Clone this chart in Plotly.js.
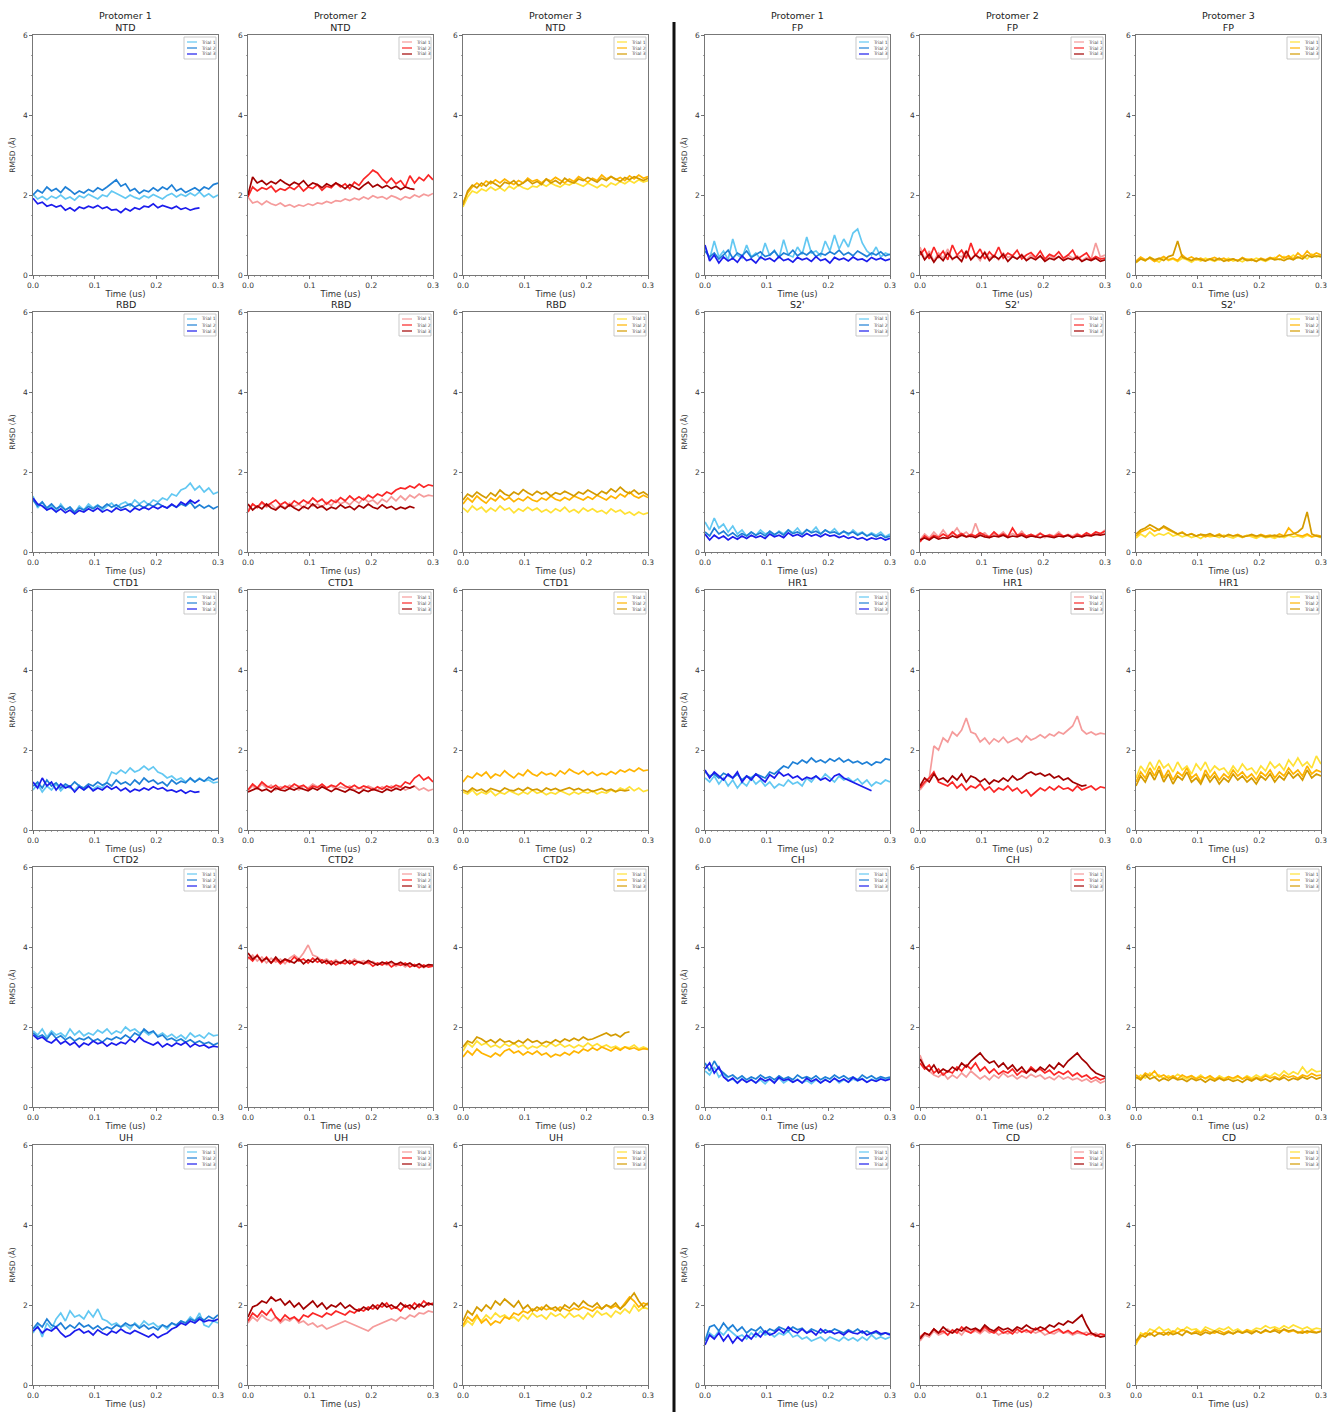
<!DOCTYPE html>
<html>
<head>
<meta charset="utf-8">
<script src="https://cdn.plot.ly/plotly-3.0.1.min.js"></script>
<style>html,body{margin:0;padding:0;background:#fff;}#chart{width:1338px;height:1412px;}</style>
</head>
<body>
<div id="chart"></div>
<script>
// ---------------- DATA (RMSD in Å, sampled every 0.0075 us) ----------------
const dt = 0.0075;
const trialNames = ['Trial 1', 'Trial 2', 'Trial 3'];
const protomerNames = ['Protomer 1', 'Protomer 2', 'Protomer 3'];
const leftDomains = ['NTD', 'RBD', 'CTD1', 'CTD2', 'UH'];
const rightDomains = ['FP', "S2'", 'HR1', 'CH', 'CD'];
const xTickLabels = ['0.0', '0.1', '0.2', '0.3'];
const yTickLabels = ['0', '2', '4', '6'];

// NTD
const ntd_p1_t1 = [2.02,1.9,1.96,1.88,1.97,1.92,2.0,1.9,1.95,1.87,1.98,1.93,2.02,1.95,1.9,2.0,1.96,2.1,2.05,1.98,1.92,2.0,1.94,1.9,1.98,1.93,2.01,1.95,1.9,1.99,2.04,1.95,2.02,1.97,2.05,1.98,2.08,1.96,2.03,1.94,2.0];
const ntd_p1_t2 = [2.0,2.12,2.05,2.2,2.1,2.16,2.06,2.2,2.12,2.02,2.1,2.05,2.14,2.08,2.18,2.12,2.2,2.3,2.38,2.22,2.28,2.1,2.16,2.04,2.12,2.08,2.18,2.1,2.2,2.14,2.25,2.1,2.16,2.06,2.12,2.18,2.1,2.2,2.15,2.26,2.3];
const ntd_p1_t3 = [1.92,1.78,1.82,1.72,1.76,1.7,1.74,1.62,1.68,1.6,1.7,1.66,1.72,1.68,1.74,1.66,1.7,1.62,1.64,1.56,1.66,1.6,1.68,1.64,1.72,1.7,1.78,1.68,1.74,1.7,1.66,1.72,1.64,1.68,1.62,1.66,1.68];
const ntd_p2_t1 = [1.95,1.8,1.84,1.76,1.85,1.78,1.74,1.8,1.72,1.76,1.7,1.75,1.72,1.78,1.74,1.8,1.78,1.84,1.8,1.86,1.84,1.9,1.86,1.92,1.88,1.95,1.9,1.98,1.93,1.96,1.9,1.98,1.94,1.88,1.96,1.92,2.0,1.95,2.02,1.98,2.04];
const ntd_p2_t2 = [1.95,2.2,2.1,2.18,2.14,2.22,2.08,2.16,2.12,2.2,2.14,2.24,2.1,2.2,2.16,2.26,2.12,2.22,2.18,2.3,2.2,2.28,2.16,2.32,2.24,2.4,2.5,2.62,2.55,2.4,2.3,2.42,2.28,2.36,2.2,2.48,2.3,2.44,2.36,2.5,2.38];
const ntd_p2_t3 = [2.0,2.45,2.3,2.36,2.26,2.34,2.28,2.38,2.3,2.24,2.32,2.26,2.36,2.22,2.3,2.26,2.18,2.28,2.22,2.3,2.24,2.16,2.26,2.2,2.14,2.24,2.32,2.2,2.26,2.18,2.24,2.16,2.22,2.14,2.2,2.16,2.14];
const ntd_p3_t1 = [1.7,1.95,2.1,2.05,2.15,2.1,2.2,2.12,2.18,2.1,2.22,2.15,2.25,2.18,2.14,2.22,2.2,2.28,2.22,2.3,2.24,2.2,2.28,2.25,2.32,2.26,2.22,2.3,2.24,2.18,2.26,2.2,2.3,2.25,2.34,2.28,2.36,2.3,2.38,2.32,2.36];
const ntd_p3_t2 = [1.8,2.05,2.2,2.3,2.22,2.35,2.28,2.38,2.3,2.4,2.32,2.26,2.36,2.3,2.42,2.34,2.38,2.3,2.4,2.35,2.44,2.36,2.3,2.4,2.34,2.46,2.38,2.32,2.42,2.36,2.5,2.4,2.46,2.38,2.44,2.36,2.48,2.4,2.5,2.42,2.46];
const ntd_p3_t3 = [1.75,2.1,2.25,2.18,2.3,2.22,2.34,2.26,2.2,2.32,2.28,2.36,2.24,2.3,2.38,2.28,2.34,2.26,2.4,2.3,2.36,2.28,2.42,2.34,2.3,2.4,2.36,2.44,2.38,2.32,2.42,2.36,2.46,2.4,2.34,2.44,2.38,2.46,2.4,2.36,2.42];
// FP
const fp_p1_t1 = [0.7,0.4,0.85,0.45,0.6,0.38,0.9,0.5,0.42,0.75,0.45,0.55,0.4,0.8,0.48,0.62,0.42,0.88,0.5,0.45,0.7,0.52,0.95,0.55,0.6,0.48,0.85,0.6,1.0,0.65,0.9,0.7,1.05,1.15,0.8,0.6,0.5,0.7,0.45,0.55,0.5];
const fp_p1_t2 = [0.6,0.45,0.55,0.4,0.5,0.62,0.42,0.55,0.48,0.6,0.44,0.52,0.58,0.46,0.5,0.6,0.45,0.55,0.5,0.62,0.48,0.56,0.5,0.6,0.46,0.54,0.5,0.58,0.52,0.62,0.5,0.56,0.48,0.6,0.52,0.46,0.55,0.5,0.58,0.48,0.52];
const fp_p1_t3 = [0.75,0.35,0.5,0.3,0.45,0.35,0.42,0.32,0.48,0.36,0.4,0.3,0.45,0.38,0.42,0.34,0.46,0.36,0.4,0.32,0.44,0.38,0.42,0.34,0.46,0.36,0.4,0.3,0.44,0.38,0.42,0.35,0.45,0.38,0.4,0.34,0.44,0.38,0.42,0.36,0.4];
const fp_p2_t1 = [0.7,0.4,0.6,0.35,0.55,0.42,0.65,0.38,0.5,0.45,0.6,0.4,0.52,0.36,0.58,0.42,0.5,0.38,0.55,0.44,0.48,0.4,0.52,0.38,0.5,0.42,0.46,0.36,0.5,0.4,0.46,0.38,0.5,0.42,0.48,0.36,0.44,0.4,0.8,0.45,0.5];
const fp_p2_t2 = [0.5,0.65,0.4,0.7,0.45,0.6,0.38,0.75,0.5,0.62,0.42,0.8,0.48,0.65,0.4,0.58,0.45,0.7,0.42,0.55,0.48,0.62,0.4,0.5,0.56,0.44,0.6,0.4,0.52,0.46,0.58,0.42,0.5,0.62,0.4,0.48,0.55,0.38,0.46,0.4,0.42];
const fp_p2_t3 = [0.6,0.38,0.52,0.32,0.48,0.36,0.55,0.4,0.46,0.34,0.6,0.38,0.5,0.42,0.56,0.36,0.48,0.4,0.52,0.34,0.46,0.4,0.5,0.36,0.44,0.38,0.48,0.34,0.42,0.38,0.46,0.36,0.42,0.38,0.45,0.34,0.4,0.36,0.42,0.34,0.38];
const fp_p3_t1 = [0.3,0.42,0.35,0.45,0.38,0.32,0.44,0.36,0.4,0.34,0.42,0.38,0.32,0.4,0.35,0.42,0.38,0.34,0.4,0.36,0.42,0.35,0.38,0.33,0.4,0.36,0.42,0.38,0.34,0.4,0.44,0.38,0.46,0.4,0.5,0.42,0.48,0.4,0.52,0.45,0.5];
const fp_p3_t2 = [0.35,0.45,0.38,0.42,0.34,0.4,0.46,0.38,0.42,0.36,0.5,0.4,0.45,0.38,0.42,0.36,0.4,0.44,0.38,0.42,0.35,0.4,0.36,0.44,0.38,0.4,0.34,0.42,0.38,0.44,0.4,0.5,0.42,0.48,0.4,0.55,0.45,0.6,0.48,0.55,0.5];
const fp_p3_t3 = [0.32,0.4,0.36,0.44,0.38,0.42,0.36,0.46,0.5,0.85,0.45,0.4,0.36,0.42,0.38,0.35,0.4,0.36,0.42,0.34,0.38,0.4,0.35,0.42,0.36,0.38,0.34,0.4,0.36,0.42,0.38,0.4,0.36,0.42,0.38,0.45,0.4,0.5,0.44,0.48,0.45];
// RBD
const rbd_p1_t1 = [1.4,1.1,1.25,1.05,1.15,1.0,1.2,1.05,1.12,0.98,1.15,1.05,1.2,1.1,1.18,1.05,1.15,1.22,1.1,1.2,1.25,1.15,1.3,1.2,1.28,1.18,1.3,1.25,1.35,1.3,1.45,1.4,1.55,1.6,1.72,1.55,1.65,1.5,1.6,1.45,1.5];
const rbd_p1_t2 = [1.3,1.15,1.25,1.1,1.2,1.08,1.15,1.05,1.12,1.0,1.1,1.05,1.14,1.08,1.16,1.1,1.2,1.12,1.18,1.1,1.15,1.2,1.12,1.18,1.1,1.2,1.14,1.22,1.15,1.1,1.18,1.12,1.2,1.15,1.25,1.1,1.18,1.1,1.16,1.08,1.14];
const rbd_p1_t3 = [1.35,1.2,1.15,1.05,1.1,1.0,1.08,0.98,1.05,0.95,1.04,1.0,1.08,1.02,1.1,1.0,1.06,1.0,1.1,1.04,1.08,1.0,1.1,1.05,1.12,1.06,1.14,1.08,1.15,1.1,1.2,1.12,1.25,1.18,1.3,1.22,1.3];
const rbd_p2_t1 = [1.05,1.2,1.1,1.22,1.12,1.2,1.08,1.18,1.1,1.22,1.14,1.2,1.1,1.25,1.15,1.2,1.12,1.24,1.16,1.3,1.2,1.26,1.18,1.3,1.22,1.35,1.25,1.3,1.2,1.32,1.25,1.38,1.28,1.4,1.3,1.42,1.35,1.45,1.38,1.42,1.4];
const rbd_p2_t2 = [1.0,1.2,1.12,1.25,1.15,1.22,1.3,1.18,1.25,1.15,1.28,1.2,1.3,1.22,1.35,1.25,1.32,1.2,1.3,1.24,1.36,1.28,1.4,1.3,1.38,1.3,1.42,1.35,1.45,1.4,1.5,1.45,1.55,1.6,1.58,1.65,1.6,1.7,1.62,1.68,1.65];
const rbd_p2_t3 = [1.2,1.05,1.15,1.08,1.2,1.1,1.05,1.15,1.08,1.18,1.1,1.04,1.14,1.08,1.2,1.1,1.15,1.05,1.12,1.08,1.18,1.1,1.14,1.06,1.16,1.1,1.2,1.12,1.08,1.18,1.1,1.14,1.06,1.12,1.08,1.14,1.1];
const rbd_p3_t1 = [1.1,1.0,1.15,1.05,1.12,1.0,1.1,1.02,1.15,1.05,1.1,0.98,1.08,1.02,1.12,1.04,1.1,1.0,1.06,0.98,1.08,1.02,1.12,1.0,1.06,0.98,1.1,1.02,1.08,1.0,1.04,0.96,1.08,1.0,1.05,0.95,1.0,0.92,1.0,0.94,0.98];
const rbd_p3_t2 = [1.2,1.35,1.25,1.4,1.3,1.22,1.35,1.28,1.4,1.3,1.36,1.26,1.34,1.28,1.38,1.3,1.26,1.35,1.3,1.4,1.32,1.28,1.36,1.3,1.4,1.34,1.3,1.38,1.32,1.42,1.35,1.3,1.4,1.34,1.45,1.38,1.5,1.4,1.35,1.42,1.36];
const rbd_p3_t3 = [1.3,1.45,1.38,1.5,1.42,1.35,1.48,1.4,1.55,1.45,1.4,1.5,1.44,1.56,1.48,1.42,1.52,1.45,1.5,1.4,1.48,1.44,1.52,1.46,1.4,1.5,1.45,1.55,1.48,1.42,1.52,1.46,1.58,1.5,1.62,1.52,1.46,1.55,1.45,1.5,1.42];
// S2'
const s2_p1_t1 = [0.75,0.55,0.85,0.6,0.7,0.5,0.65,0.45,0.55,0.4,0.5,0.42,0.55,0.45,0.5,0.4,0.52,0.45,0.55,0.48,0.6,0.45,0.55,0.5,0.62,0.45,0.55,0.48,0.58,0.45,0.52,0.42,0.55,0.45,0.5,0.4,0.48,0.42,0.5,0.38,0.45];
const s2_p1_t2 = [0.5,0.4,0.6,0.45,0.52,0.4,0.48,0.38,0.46,0.4,0.5,0.42,0.48,0.4,0.52,0.44,0.5,0.42,0.55,0.46,0.5,0.44,0.56,0.48,0.52,0.45,0.55,0.48,0.5,0.44,0.52,0.46,0.5,0.42,0.48,0.4,0.45,0.38,0.44,0.36,0.4];
const s2_p1_t3 = [0.45,0.3,0.42,0.34,0.4,0.3,0.38,0.32,0.4,0.34,0.42,0.36,0.4,0.34,0.45,0.38,0.42,0.36,0.48,0.4,0.44,0.38,0.46,0.4,0.44,0.38,0.45,0.4,0.42,0.36,0.4,0.34,0.38,0.32,0.36,0.3,0.35,0.32,0.36,0.3,0.34];
const s2_p2_t1 = [0.3,0.45,0.35,0.5,0.38,0.55,0.4,0.45,0.6,0.42,0.5,0.38,0.72,0.42,0.48,0.36,0.45,0.4,0.5,0.38,0.46,0.4,0.52,0.38,0.44,0.4,0.48,0.36,0.44,0.4,0.5,0.38,0.44,0.4,0.46,0.38,0.42,0.4,0.5,0.45,0.55];
const s2_p2_t2 = [0.25,0.4,0.32,0.42,0.36,0.45,0.38,0.5,0.4,0.46,0.38,0.44,0.4,0.48,0.42,0.38,0.5,0.4,0.45,0.38,0.6,0.42,0.46,0.4,0.44,0.38,0.46,0.4,0.42,0.38,0.45,0.4,0.42,0.36,0.44,0.4,0.48,0.42,0.5,0.46,0.52];
const s2_p2_t3 = [0.3,0.35,0.3,0.38,0.32,0.36,0.34,0.4,0.36,0.42,0.38,0.4,0.36,0.42,0.38,0.36,0.4,0.38,0.42,0.36,0.4,0.38,0.42,0.36,0.4,0.38,0.36,0.4,0.38,0.36,0.4,0.38,0.42,0.36,0.4,0.38,0.42,0.4,0.44,0.42,0.45];
const s2_p3_t1 = [0.35,0.45,0.38,0.5,0.4,0.46,0.42,0.48,0.4,0.44,0.38,0.42,0.36,0.4,0.34,0.42,0.38,0.4,0.36,0.42,0.38,0.35,0.4,0.36,0.42,0.38,0.34,0.4,0.36,0.38,0.34,0.4,0.36,0.42,0.38,0.4,0.36,0.42,0.38,0.4,0.36];
const s2_p3_t2 = [0.4,0.5,0.55,0.6,0.52,0.58,0.62,0.55,0.5,0.45,0.5,0.42,0.46,0.4,0.44,0.38,0.42,0.4,0.45,0.38,0.42,0.4,0.44,0.38,0.4,0.42,0.38,0.44,0.4,0.42,0.38,0.45,0.4,0.6,0.48,0.42,0.4,0.45,0.38,0.42,0.4];
const s2_p3_t3 = [0.45,0.55,0.6,0.68,0.62,0.55,0.65,0.58,0.5,0.45,0.48,0.42,0.45,0.4,0.44,0.42,0.46,0.4,0.42,0.38,0.44,0.4,0.42,0.38,0.4,0.44,0.4,0.42,0.38,0.4,0.42,0.38,0.4,0.42,0.45,0.5,0.6,1.0,0.45,0.4,0.38];
// CTD1
const ctd1_p1_t1 = [1.0,1.15,0.95,1.1,1.0,1.15,0.98,1.1,1.05,1.0,1.12,1.0,1.08,1.02,1.1,1.05,1.2,1.45,1.4,1.5,1.42,1.55,1.45,1.5,1.6,1.5,1.58,1.45,1.4,1.3,1.35,1.25,1.3,1.2,1.28,1.2,1.3,1.22,1.25,1.18,1.2];
const ctd1_p1_t2 = [1.1,1.2,1.05,1.25,1.1,1.18,1.05,1.15,1.08,1.2,1.1,1.05,1.15,1.1,1.2,1.12,1.18,1.1,1.25,1.15,1.2,1.12,1.25,1.15,1.3,1.2,1.25,1.15,1.2,1.1,1.25,1.15,1.22,1.18,1.3,1.2,1.28,1.22,1.32,1.25,1.3];
const ctd1_p1_t3 = [1.2,1.05,1.3,1.1,1.2,1.0,1.15,1.05,1.1,0.95,1.08,1.0,1.1,0.98,1.05,1.0,1.1,1.02,1.08,0.98,1.05,0.95,1.02,0.98,1.05,1.0,1.08,1.02,1.06,0.98,1.0,0.95,1.0,0.92,0.98,0.94,0.96];
const ctd1_p2_t1 = [1.0,1.1,1.02,1.15,1.05,1.12,1.0,1.08,1.04,1.12,1.06,1.0,1.1,1.05,1.15,1.08,1.12,1.05,1.1,1.02,1.08,1.04,1.1,1.0,1.06,1.02,1.1,1.05,1.0,1.08,1.02,1.1,1.04,1.08,1.0,1.05,1.1,1.0,1.05,0.98,1.02];
const ctd1_p2_t2 = [1.0,1.15,1.05,1.2,1.1,1.05,1.12,1.02,1.1,1.05,1.15,1.08,1.12,1.02,1.1,1.06,1.15,1.05,1.12,1.08,1.18,1.1,1.05,1.12,1.04,1.1,1.06,1.0,1.08,1.02,1.1,1.05,1.12,1.08,1.2,1.15,1.3,1.38,1.25,1.32,1.2];
const ctd1_p2_t3 = [0.95,1.0,1.05,0.98,1.02,0.95,1.05,1.0,0.98,1.04,1.0,1.06,1.02,0.98,1.05,1.0,1.08,1.02,0.96,1.04,1.0,0.95,1.02,0.98,0.92,1.0,0.96,1.02,0.98,0.94,1.02,0.98,1.04,1.0,1.08,1.05,1.1];
const ctd1_p3_t1 = [0.95,0.9,1.0,0.88,0.95,0.9,0.98,0.86,0.94,0.9,0.98,0.92,0.88,0.95,0.9,1.0,0.92,0.96,0.88,0.94,0.9,0.98,0.92,0.88,0.95,0.9,0.96,0.92,0.98,0.9,0.95,0.92,1.0,0.95,1.05,1.0,1.08,0.98,1.05,0.96,1.0];
const ctd1_p3_t2 = [1.2,1.35,1.3,1.42,1.35,1.45,1.3,1.4,1.35,1.48,1.38,1.3,1.42,1.36,1.5,1.4,1.35,1.45,1.38,1.42,1.35,1.48,1.4,1.52,1.45,1.4,1.48,1.38,1.45,1.36,1.42,1.38,1.46,1.4,1.5,1.45,1.52,1.46,1.55,1.48,1.5];
const ctd1_p3_t3 = [1.0,0.95,1.05,0.98,1.02,0.95,1.04,1.0,0.96,1.05,1.0,0.98,1.04,0.98,1.06,1.0,1.02,0.96,1.05,1.0,1.04,0.98,1.02,1.06,1.0,1.04,0.98,1.02,0.96,1.0,1.04,0.98,1.02,0.96,1.0,0.98,1.0];
// HR1
const hr1_p1_t1 = [1.3,1.2,1.35,1.15,1.3,1.1,1.25,1.05,1.2,1.1,1.3,1.15,1.25,1.1,1.2,1.05,1.15,1.1,1.25,1.15,1.2,1.1,1.3,1.2,1.35,1.25,1.4,1.3,1.2,1.35,1.25,1.3,1.2,1.28,1.15,1.25,1.1,1.2,1.15,1.25,1.2];
const hr1_p1_t2 = [1.45,1.35,1.4,1.3,1.42,1.35,1.3,1.4,1.25,1.35,1.3,1.4,1.35,1.3,1.45,1.4,1.5,1.6,1.55,1.7,1.65,1.75,1.68,1.8,1.7,1.75,1.68,1.78,1.72,1.8,1.7,1.76,1.68,1.72,1.65,1.7,1.62,1.7,1.68,1.78,1.75];
const hr1_p1_t3 = [1.5,1.3,1.45,1.35,1.25,1.4,1.3,1.45,1.2,1.35,1.25,1.4,1.3,1.2,1.38,1.3,1.45,1.35,1.4,1.3,1.35,1.25,1.32,1.28,1.35,1.25,1.3,1.22,1.35,1.4,1.3,1.25,1.2,1.15,1.1,1.05,0.98];
const hr1_p2_t1 = [1.0,1.15,1.3,2.1,2.0,2.3,2.2,2.45,2.35,2.5,2.8,2.45,2.4,2.2,2.3,2.15,2.28,2.2,2.32,2.18,2.25,2.3,2.2,2.35,2.25,2.3,2.38,2.3,2.4,2.35,2.45,2.4,2.5,2.6,2.85,2.5,2.4,2.45,2.38,2.42,2.4];
const hr1_p2_t2 = [1.05,1.2,1.3,1.45,1.2,1.15,1.1,1.2,1.05,1.15,1.0,1.1,1.05,1.15,1.0,1.08,0.95,1.05,1.0,1.1,0.98,1.05,0.92,1.0,0.85,0.95,1.05,0.98,1.08,1.0,1.1,1.02,1.05,0.98,1.1,1.0,1.05,1.1,1.0,1.08,1.05];
const hr1_p2_t3 = [1.1,1.3,1.2,1.4,1.25,1.3,1.2,1.35,1.25,1.4,1.2,1.35,1.3,1.2,1.28,1.15,1.25,1.2,1.3,1.22,1.35,1.25,1.3,1.4,1.45,1.38,1.42,1.35,1.4,1.3,1.35,1.25,1.3,1.2,1.15,1.1,1.12];
const hr1_p3_t1 = [1.3,1.6,1.45,1.7,1.5,1.75,1.55,1.65,1.45,1.7,1.5,1.6,1.4,1.65,1.5,1.7,1.45,1.6,1.5,1.55,1.4,1.6,1.45,1.65,1.5,1.55,1.4,1.6,1.48,1.7,1.55,1.65,1.5,1.75,1.6,1.8,1.6,1.7,1.55,1.85,1.65];
const hr1_p3_t2 = [1.2,1.45,1.3,1.55,1.35,1.6,1.3,1.5,1.25,1.45,1.35,1.55,1.3,1.4,1.2,1.5,1.3,1.45,1.25,1.4,1.3,1.5,1.35,1.45,1.3,1.4,1.25,1.45,1.35,1.5,1.3,1.45,1.35,1.55,1.4,1.5,1.35,1.6,1.4,1.5,1.45];
const hr1_p3_t3 = [1.1,1.35,1.2,1.45,1.25,1.5,1.2,1.4,1.15,1.35,1.25,1.45,1.2,1.3,1.15,1.4,1.2,1.35,1.15,1.3,1.2,1.4,1.25,1.35,1.2,1.3,1.15,1.35,1.25,1.4,1.2,1.35,1.25,1.45,1.3,1.4,1.25,1.5,1.3,1.4,1.35];
// CTD2
const ctd2_p1_t1 = [1.9,1.8,1.95,1.75,1.9,1.8,1.85,1.75,1.95,1.8,1.9,1.78,1.85,1.8,1.92,1.85,1.95,1.82,1.9,1.85,2.0,1.9,1.95,1.85,1.9,1.8,1.88,1.78,1.85,1.75,1.82,1.72,1.8,1.7,1.85,1.75,1.8,1.72,1.85,1.78,1.8];
const ctd2_p1_t2 = [1.85,1.75,1.8,1.7,1.85,1.72,1.78,1.68,1.75,1.65,1.72,1.68,1.75,1.65,1.7,1.62,1.72,1.68,1.75,1.7,1.8,1.72,1.85,1.78,1.95,1.85,1.9,1.75,1.8,1.68,1.72,1.65,1.7,1.62,1.68,1.6,1.65,1.58,1.62,1.55,1.6];
const ctd2_p1_t3 = [1.8,1.7,1.75,1.65,1.6,1.7,1.58,1.65,1.55,1.62,1.5,1.6,1.55,1.65,1.58,1.62,1.52,1.6,1.55,1.62,1.58,1.7,1.62,1.75,1.65,1.6,1.55,1.62,1.5,1.58,1.52,1.6,1.55,1.62,1.5,1.58,1.52,1.55,1.48,1.52,1.5];
const ctd2_p2_t1 = [3.7,3.8,3.65,3.75,3.6,3.72,3.62,3.7,3.58,3.72,3.8,3.7,3.85,4.05,3.8,3.75,3.65,3.7,3.6,3.68,3.58,3.65,3.6,3.7,3.62,3.66,3.58,3.64,3.56,3.62,3.55,3.6,3.52,3.6,3.5,3.58,3.52,3.56,3.48,3.55,3.52];
const ctd2_p2_t2 = [3.75,3.65,3.8,3.62,3.75,3.6,3.7,3.58,3.68,3.62,3.75,3.65,3.7,3.6,3.72,3.62,3.68,3.58,3.65,3.55,3.62,3.58,3.66,3.55,3.64,3.58,3.62,3.52,3.6,3.55,3.62,3.5,3.58,3.54,3.6,3.5,3.56,3.48,3.55,3.5,3.52];
const ctd2_p2_t3 = [3.85,3.7,3.78,3.65,3.72,3.6,3.75,3.62,3.7,3.65,3.6,3.7,3.58,3.68,3.62,3.72,3.6,3.66,3.56,3.64,3.6,3.68,3.58,3.65,3.62,3.58,3.66,3.6,3.55,3.62,3.58,3.64,3.56,3.62,3.55,3.6,3.52,3.58,3.5,3.56,3.55];
const ctd2_p3_t1 = [1.4,1.6,1.5,1.65,1.55,1.6,1.5,1.55,1.48,1.58,1.52,1.6,1.5,1.55,1.45,1.52,1.48,1.55,1.5,1.6,1.52,1.58,1.5,1.55,1.48,1.55,1.5,1.6,1.52,1.58,1.5,1.55,1.48,1.52,1.45,1.5,1.48,1.55,1.45,1.5,1.45];
const ctd2_p3_t2 = [1.25,1.4,1.3,1.45,1.35,1.3,1.25,1.35,1.28,1.4,1.45,1.35,1.4,1.3,1.38,1.32,1.4,1.3,1.35,1.25,1.32,1.28,1.36,1.3,1.4,1.35,1.45,1.4,1.48,1.42,1.5,1.45,1.4,1.48,1.42,1.5,1.45,1.48,1.42,1.46,1.44];
const ctd2_p3_t3 = [1.5,1.65,1.6,1.75,1.7,1.62,1.68,1.6,1.7,1.62,1.65,1.58,1.66,1.6,1.7,1.62,1.66,1.58,1.64,1.6,1.68,1.62,1.7,1.65,1.72,1.66,1.75,1.68,1.7,1.75,1.8,1.85,1.78,1.82,1.75,1.85,1.88];
// CH
const ch_p1_t1 = [0.9,0.8,1.0,0.75,0.85,0.65,0.7,0.6,0.72,0.62,0.7,0.6,0.68,0.58,0.7,0.62,0.72,0.6,0.68,0.62,0.7,0.6,0.66,0.58,0.68,0.6,0.7,0.62,0.72,0.6,0.68,0.62,0.7,0.65,0.72,0.62,0.7,0.65,0.75,0.68,0.72];
const ch_p1_t2 = [1.1,0.9,1.15,0.95,0.85,0.75,0.8,0.7,0.78,0.68,0.75,0.7,0.8,0.72,0.76,0.68,0.78,0.7,0.75,0.68,0.8,0.72,0.76,0.7,0.78,0.68,0.75,0.7,0.8,0.72,0.78,0.7,0.75,0.68,0.8,0.72,0.78,0.7,0.76,0.72,0.75];
const ch_p1_t3 = [0.95,1.1,0.85,1.0,0.75,0.65,0.72,0.6,0.7,0.62,0.68,0.6,0.72,0.65,0.7,0.6,0.74,0.66,0.7,0.62,0.68,0.6,0.72,0.64,0.7,0.6,0.68,0.62,0.72,0.64,0.7,0.62,0.74,0.66,0.7,0.62,0.68,0.64,0.7,0.66,0.7];
const ch_p2_t1 = [1.3,1.0,0.9,0.8,0.75,0.85,0.7,0.8,0.72,0.85,0.75,0.9,0.8,0.7,0.78,0.68,0.8,0.72,0.85,0.75,0.8,0.7,0.78,0.72,0.82,0.75,0.8,0.7,0.75,0.68,0.78,0.7,0.75,0.68,0.72,0.65,0.7,0.62,0.68,0.6,0.65];
const ch_p2_t2 = [1.1,0.95,1.05,0.85,0.95,0.8,0.9,0.85,1.0,0.9,1.05,0.95,1.1,0.9,1.0,0.85,0.95,0.82,0.9,0.85,0.95,0.8,0.9,0.85,1.0,0.9,0.95,0.85,0.92,0.8,0.88,0.82,0.9,0.78,0.85,0.75,0.8,0.7,0.75,0.68,0.72];
const ch_p2_t3 = [1.2,1.0,0.9,1.05,0.85,0.95,0.88,1.0,0.92,1.1,1.0,1.15,1.25,1.35,1.2,1.1,1.15,1.0,1.1,0.95,1.05,0.9,1.0,0.85,0.95,0.88,1.0,0.92,1.05,0.95,1.1,1.0,1.15,1.25,1.35,1.2,1.1,0.95,0.85,0.8,0.75];
const ch_p3_t1 = [0.7,0.8,0.72,0.85,0.75,0.8,0.7,0.78,0.72,0.82,0.75,0.7,0.78,0.72,0.8,0.7,0.75,0.68,0.78,0.72,0.76,0.68,0.75,0.7,0.78,0.72,0.8,0.74,0.82,0.76,0.85,0.78,0.9,0.8,0.88,0.82,1.0,0.85,0.95,0.88,0.9];
const ch_p3_t2 = [0.8,0.72,0.85,0.78,0.9,0.75,0.8,0.72,0.78,0.7,0.8,0.74,0.78,0.7,0.76,0.72,0.78,0.7,0.74,0.68,0.76,0.72,0.78,0.7,0.75,0.68,0.74,0.7,0.78,0.72,0.76,0.7,0.8,0.74,0.78,0.72,0.8,0.76,0.84,0.78,0.8];
const ch_p3_t3 = [0.75,0.68,0.8,0.7,0.75,0.65,0.72,0.66,0.74,0.68,0.7,0.64,0.72,0.66,0.7,0.62,0.7,0.65,0.72,0.66,0.7,0.64,0.68,0.62,0.7,0.65,0.72,0.66,0.7,0.64,0.72,0.68,0.74,0.66,0.72,0.68,0.75,0.7,0.76,0.7,0.74];
// UH
const uh_p1_t1 = [1.3,1.5,1.2,1.55,1.4,1.65,1.8,1.6,1.85,1.7,1.75,1.65,1.85,1.7,1.9,1.65,1.6,1.5,1.55,1.45,1.5,1.4,1.55,1.45,1.6,1.5,1.55,1.45,1.5,1.4,1.55,1.48,1.6,1.55,1.7,1.6,1.8,1.5,1.45,1.6,1.55];
const uh_p1_t2 = [1.4,1.55,1.45,1.65,1.5,1.45,1.55,1.4,1.5,1.42,1.55,1.45,1.5,1.4,1.48,1.38,1.45,1.4,1.5,1.45,1.55,1.48,1.52,1.42,1.5,1.4,1.45,1.38,1.5,1.45,1.55,1.5,1.6,1.55,1.65,1.6,1.7,1.62,1.72,1.65,1.75];
const uh_p1_t3 = [1.35,1.45,1.3,1.4,1.35,1.45,1.3,1.2,1.25,1.35,1.4,1.3,1.35,1.25,1.38,1.3,1.25,1.35,1.3,1.4,1.32,1.28,1.36,1.3,1.25,1.2,1.28,1.18,1.25,1.3,1.4,1.45,1.55,1.5,1.6,1.55,1.65,1.58,1.62,1.6,1.65];
const uh_p2_t1 = [1.55,1.7,1.6,1.75,1.65,1.6,1.7,1.55,1.65,1.6,1.7,1.55,1.6,1.5,1.55,1.45,1.5,1.4,1.45,1.5,1.55,1.6,1.55,1.5,1.45,1.4,1.35,1.45,1.5,1.55,1.6,1.65,1.6,1.7,1.65,1.75,1.7,1.8,1.78,1.85,1.82];
const uh_p2_t2 = [1.6,1.8,1.7,1.85,1.75,1.9,1.7,1.6,1.75,1.65,1.7,1.6,1.75,1.7,1.8,1.75,1.7,1.8,1.75,1.85,1.8,1.75,1.85,1.8,1.9,1.85,1.95,1.9,2.0,1.95,2.05,1.9,1.95,1.85,2.0,1.9,2.05,1.95,2.1,2.0,2.05];
const uh_p2_t3 = [1.7,1.95,2.0,2.1,2.05,2.2,2.1,2.15,2.0,2.1,1.95,2.05,1.9,2.0,2.1,1.95,2.05,1.9,2.0,1.95,2.05,1.92,2.0,1.9,1.85,1.95,1.88,2.0,1.9,2.05,1.95,2.0,1.92,2.05,1.95,2.0,1.9,2.02,1.95,2.05,2.0];
const uh_p3_t1 = [1.45,1.6,1.5,1.7,1.6,1.75,1.65,1.8,1.7,1.75,1.65,1.7,1.6,1.75,1.65,1.8,1.7,1.75,1.65,1.8,1.72,1.78,1.68,1.8,1.7,1.75,1.65,1.8,1.7,1.85,1.75,1.8,1.7,1.85,1.78,1.9,1.8,2.0,1.85,1.95,1.9];
const uh_p3_t2 = [1.5,1.7,1.6,1.75,1.55,1.65,1.5,1.6,1.55,1.7,1.65,1.8,1.75,1.85,1.8,1.9,1.85,1.95,1.88,1.92,1.85,1.95,1.9,1.85,1.92,1.88,1.95,1.9,1.85,1.95,1.9,2.0,1.92,1.98,1.9,2.05,2.2,2.1,1.95,2.05,2.0];
const uh_p3_t3 = [1.6,1.85,1.75,1.95,1.85,2.0,1.9,2.1,2.0,2.15,2.05,1.95,2.1,1.9,2.0,1.85,1.95,1.88,2.0,1.9,1.95,1.85,2.0,1.92,2.05,1.95,2.1,2.0,1.95,2.05,1.9,2.0,1.95,2.05,1.9,2.0,2.15,2.3,2.1,1.95,2.05];
// CD
const cd_p1_t1 = [1.1,1.3,1.2,1.35,1.25,1.4,1.3,1.2,1.25,1.15,1.3,1.2,1.35,1.25,1.3,1.2,1.3,1.25,1.35,1.2,1.25,1.15,1.2,1.1,1.15,1.2,1.1,1.2,1.15,1.1,1.2,1.12,1.18,1.1,1.2,1.12,1.25,1.15,1.2,1.15,1.2];
const cd_p1_t2 = [1.1,1.45,1.5,1.35,1.55,1.4,1.5,1.35,1.45,1.3,1.4,1.35,1.45,1.3,1.4,1.35,1.45,1.4,1.35,1.45,1.38,1.42,1.3,1.4,1.35,1.3,1.38,1.32,1.4,1.35,1.3,1.38,1.32,1.4,1.3,1.35,1.28,1.32,1.25,1.3,1.28];
const cd_p1_t3 = [1.0,1.25,1.15,1.3,1.1,1.25,1.05,1.2,1.1,1.25,1.15,1.3,1.2,1.35,1.25,1.3,1.4,1.3,1.45,1.35,1.3,1.4,1.3,1.35,1.25,1.4,1.3,1.35,1.28,1.32,1.25,1.35,1.3,1.28,1.35,1.25,1.3,1.35,1.28,1.3,1.25];
const cd_p2_t1 = [1.1,1.25,1.2,1.35,1.25,1.3,1.4,1.3,1.35,1.25,1.4,1.3,1.35,1.28,1.38,1.3,1.35,1.25,1.32,1.28,1.35,1.3,1.4,1.32,1.36,1.3,1.35,1.25,1.3,1.28,1.35,1.3,1.32,1.25,1.3,1.28,1.32,1.25,1.3,1.22,1.25];
const cd_p2_t2 = [1.2,1.3,1.25,1.4,1.3,1.35,1.25,1.38,1.3,1.45,1.35,1.3,1.4,1.32,1.45,1.35,1.3,1.4,1.3,1.35,1.28,1.4,1.32,1.38,1.3,1.42,1.35,1.4,1.3,1.35,1.4,1.3,1.36,1.28,1.35,1.3,1.25,1.3,1.22,1.28,1.25];
const cd_p2_t3 = [1.15,1.3,1.25,1.4,1.3,1.45,1.35,1.3,1.4,1.35,1.45,1.38,1.42,1.35,1.5,1.4,1.35,1.45,1.38,1.42,1.35,1.45,1.4,1.5,1.42,1.38,1.45,1.4,1.5,1.45,1.55,1.5,1.6,1.55,1.65,1.75,1.5,1.3,1.25,1.2,1.22];
const cd_p3_t1 = [1.0,1.3,1.25,1.4,1.35,1.45,1.35,1.4,1.3,1.42,1.35,1.45,1.38,1.4,1.32,1.45,1.4,1.35,1.42,1.38,1.45,1.35,1.4,1.32,1.38,1.35,1.42,1.4,1.48,1.42,1.45,1.4,1.48,1.42,1.5,1.45,1.4,1.45,1.38,1.42,1.4];
const cd_p3_t2 = [1.05,1.2,1.3,1.25,1.35,1.28,1.32,1.25,1.35,1.3,1.38,1.32,1.28,1.35,1.3,1.38,1.32,1.3,1.36,1.3,1.35,1.28,1.34,1.3,1.38,1.32,1.36,1.3,1.35,1.32,1.4,1.35,1.38,1.32,1.36,1.3,1.35,1.3,1.36,1.32,1.35];
const cd_p3_t3 = [1.1,1.25,1.2,1.3,1.22,1.3,1.25,1.32,1.26,1.3,1.24,1.35,1.28,1.3,1.25,1.32,1.28,1.35,1.3,1.26,1.32,1.28,1.35,1.3,1.34,1.28,1.35,1.3,1.38,1.32,1.36,1.3,1.4,1.35,1.38,1.32,1.3,1.35,1.32,1.3,1.34];

const series = {
  'NTD':  [[ntd_p1_t1,ntd_p1_t2,ntd_p1_t3],[ntd_p2_t1,ntd_p2_t2,ntd_p2_t3],[ntd_p3_t1,ntd_p3_t2,ntd_p3_t3]],
  'FP':   [[fp_p1_t1,fp_p1_t2,fp_p1_t3],[fp_p2_t1,fp_p2_t2,fp_p2_t3],[fp_p3_t1,fp_p3_t2,fp_p3_t3]],
  'RBD':  [[rbd_p1_t1,rbd_p1_t2,rbd_p1_t3],[rbd_p2_t1,rbd_p2_t2,rbd_p2_t3],[rbd_p3_t1,rbd_p3_t2,rbd_p3_t3]],
  "S2'":  [[s2_p1_t1,s2_p1_t2,s2_p1_t3],[s2_p2_t1,s2_p2_t2,s2_p2_t3],[s2_p3_t1,s2_p3_t2,s2_p3_t3]],
  'CTD1': [[ctd1_p1_t1,ctd1_p1_t2,ctd1_p1_t3],[ctd1_p2_t1,ctd1_p2_t2,ctd1_p2_t3],[ctd1_p3_t1,ctd1_p3_t2,ctd1_p3_t3]],
  'HR1':  [[hr1_p1_t1,hr1_p1_t2,hr1_p1_t3],[hr1_p2_t1,hr1_p2_t2,hr1_p2_t3],[hr1_p3_t1,hr1_p3_t2,hr1_p3_t3]],
  'CTD2': [[ctd2_p1_t1,ctd2_p1_t2,ctd2_p1_t3],[ctd2_p2_t1,ctd2_p2_t2,ctd2_p2_t3],[ctd2_p3_t1,ctd2_p3_t2,ctd2_p3_t3]],
  'CH':   [[ch_p1_t1,ch_p1_t2,ch_p1_t3],[ch_p2_t1,ch_p2_t2,ch_p2_t3],[ch_p3_t1,ch_p3_t2,ch_p3_t3]],
  'UH':   [[uh_p1_t1,uh_p1_t2,uh_p1_t3],[uh_p2_t1,uh_p2_t2,uh_p2_t3],[uh_p3_t1,uh_p3_t2,uh_p3_t3]],
  'CD':   [[cd_p1_t1,cd_p1_t2,cd_p1_t3],[cd_p2_t1,cd_p2_t2,cd_p2_t3],[cd_p3_t1,cd_p3_t2,cd_p3_t3]]
};

// ---------------- STYLE ----------------
const palettes = [
  ['#63c8f2', '#1f80d6', '#1c1cec'],
  ['#f59b9b', '#fa2626', '#a20000'],
  ['#ffe135', '#ffb400', '#d49b00']
];
const W = 1338, H = 1412;
const colLeft = [33, 248, 463, 705, 920, 1136];
const panelW = 185;
const rowTop = [35, 312, 590, 867, 1145];
const panelH = 240;
const FONT = 'DejaVu Sans, Liberation Sans, sans-serif';
const px = v => v / W;
const py = v => 1 - v / H;

const traces = [];
const layout = {
  width: W, height: H,
  margin: {l: 0, r: 0, t: 0, b: 0},
  paper_bgcolor: '#fff', plot_bgcolor: '#fff',
  showlegend: false,
  font: {family: FONT, color: '#333'},
  annotations: [], shapes: []
};

let k = 0;
for (let r = 0; r < 5; r++) {
  for (let c = 0; c < 6; c++) {
    k++;
    const name = c < 3 ? leftDomains[r] : rightDomains[r];
    const p = c % 3;
    const xa = k === 1 ? 'x' : 'x' + k;
    const ya = k === 1 ? 'y' : 'y' + k;
    const x0 = colLeft[c], x1 = colLeft[c] + panelW;
    const y0 = rowTop[r], y1 = rowTop[r] + panelH;
    const trials = series[name][p];
    trials.forEach((vals, t) => {
      traces.push({
        type: 'scatter', mode: 'lines',
        x: vals.map((_, i) => +(i * dt).toFixed(4)),
        y: vals,
        name: trialNames[t],
        xaxis: xa, yaxis: ya,
        line: {color: palettes[p][t], width: 1.7},
        hoverinfo: 'skip'
      });
    });
    const axCommon = {
      showline: true, mirror: true, linecolor: '#555', linewidth: 0.8,
      ticks: 'outside', ticklen: 3, tickwidth: 0.8, tickcolor: '#555',
      showgrid: false, zeroline: false,
      tickfont: {size: 7.5, color: '#333', family: FONT}
    };
    layout[k === 1 ? 'xaxis' : 'xaxis' + k] = Object.assign({}, axCommon, {
      domain: [px(x0), px(x1)], anchor: ya, range: [0, 0.3],
      tickvals: [0, 0.1, 0.2, 0.3], ticktext: xTickLabels,
      minor: {ticks: 'outside', ticklen: 1.6, dtick: 0.01, tick0: 0, tickcolor: '#666', tickwidth: 0.6},
      title: {text: 'Time (us)', font: {size: 8.5, color: '#333', family: FONT}, standoff: 2}
    });
    const yax = Object.assign({}, axCommon, {
      domain: [py(y1), py(y0)], anchor: xa, range: [0, 6],
      tickvals: [0, 2, 4, 6], ticktext: yTickLabels,
      minor: {ticks: 'outside', ticklen: 1.6, dtick: 0.5, tick0: 0, tickcolor: '#666', tickwidth: 0.6}
    });
    if (c === 0 || c === 3) {
      yax.title = {text: 'RMSD (Å)', font: {size: 7.5, color: '#333', family: FONT}, standoff: 6};
    }
    layout[k === 1 ? 'yaxis' : 'yaxis' + k] = yax;

    // panel title
    layout.annotations.push({
      xref: 'paper', yref: 'paper',
      x: px((x0 + x1) / 2), y: py(y0 - 0.5),
      xanchor: 'center', yanchor: 'bottom',
      text: r === 0 ? protomerNames[p] + '<br>' + name : name,
      showarrow: false,
      font: {size: 9.5, color: '#222', family: FONT}
    });

    // small legend box (top-right corner)
    const lx1 = x1 - 2, lx0 = x1 - 34, ly0 = y0 + 2, ly1 = y0 + 24;
    layout.shapes.push({
      type: 'rect', xref: 'paper', yref: 'paper',
      x0: px(lx0), x1: px(lx1), y0: py(ly1), y1: py(ly0),
      line: {color: '#bbb', width: 0.8}, fillcolor: 'rgba(255,255,255,0.9)'
    });
    for (let t = 0; t < 3; t++) {
      const ly = ly0 + 5 + t * 6;
      layout.shapes.push({
        type: 'line', xref: 'paper', yref: 'paper',
        x0: px(lx0 + 3), x1: px(lx0 + 13), y0: py(ly), y1: py(ly),
        line: {color: palettes[p][t], width: 1.2}
      });
      layout.annotations.push({
        xref: 'paper', yref: 'paper', x: px(lx0 + 15), y: py(ly),
        xanchor: 'left', yanchor: 'middle', text: trialNames[t], showarrow: false,
        font: {size: 4.5, color: '#444', family: FONT}
      });
    }
  }
}

// vertical separator between the two groups
layout.shapes.push({
  type: 'line', xref: 'paper', yref: 'paper',
  x0: px(674), x1: px(674), y0: 0, y1: py(22),
  line: {color: '#111', width: 3}
});

Plotly.newPlot('chart', traces, layout, {staticPlot: true, displayModeBar: false});
</script>
</body>
</html>
